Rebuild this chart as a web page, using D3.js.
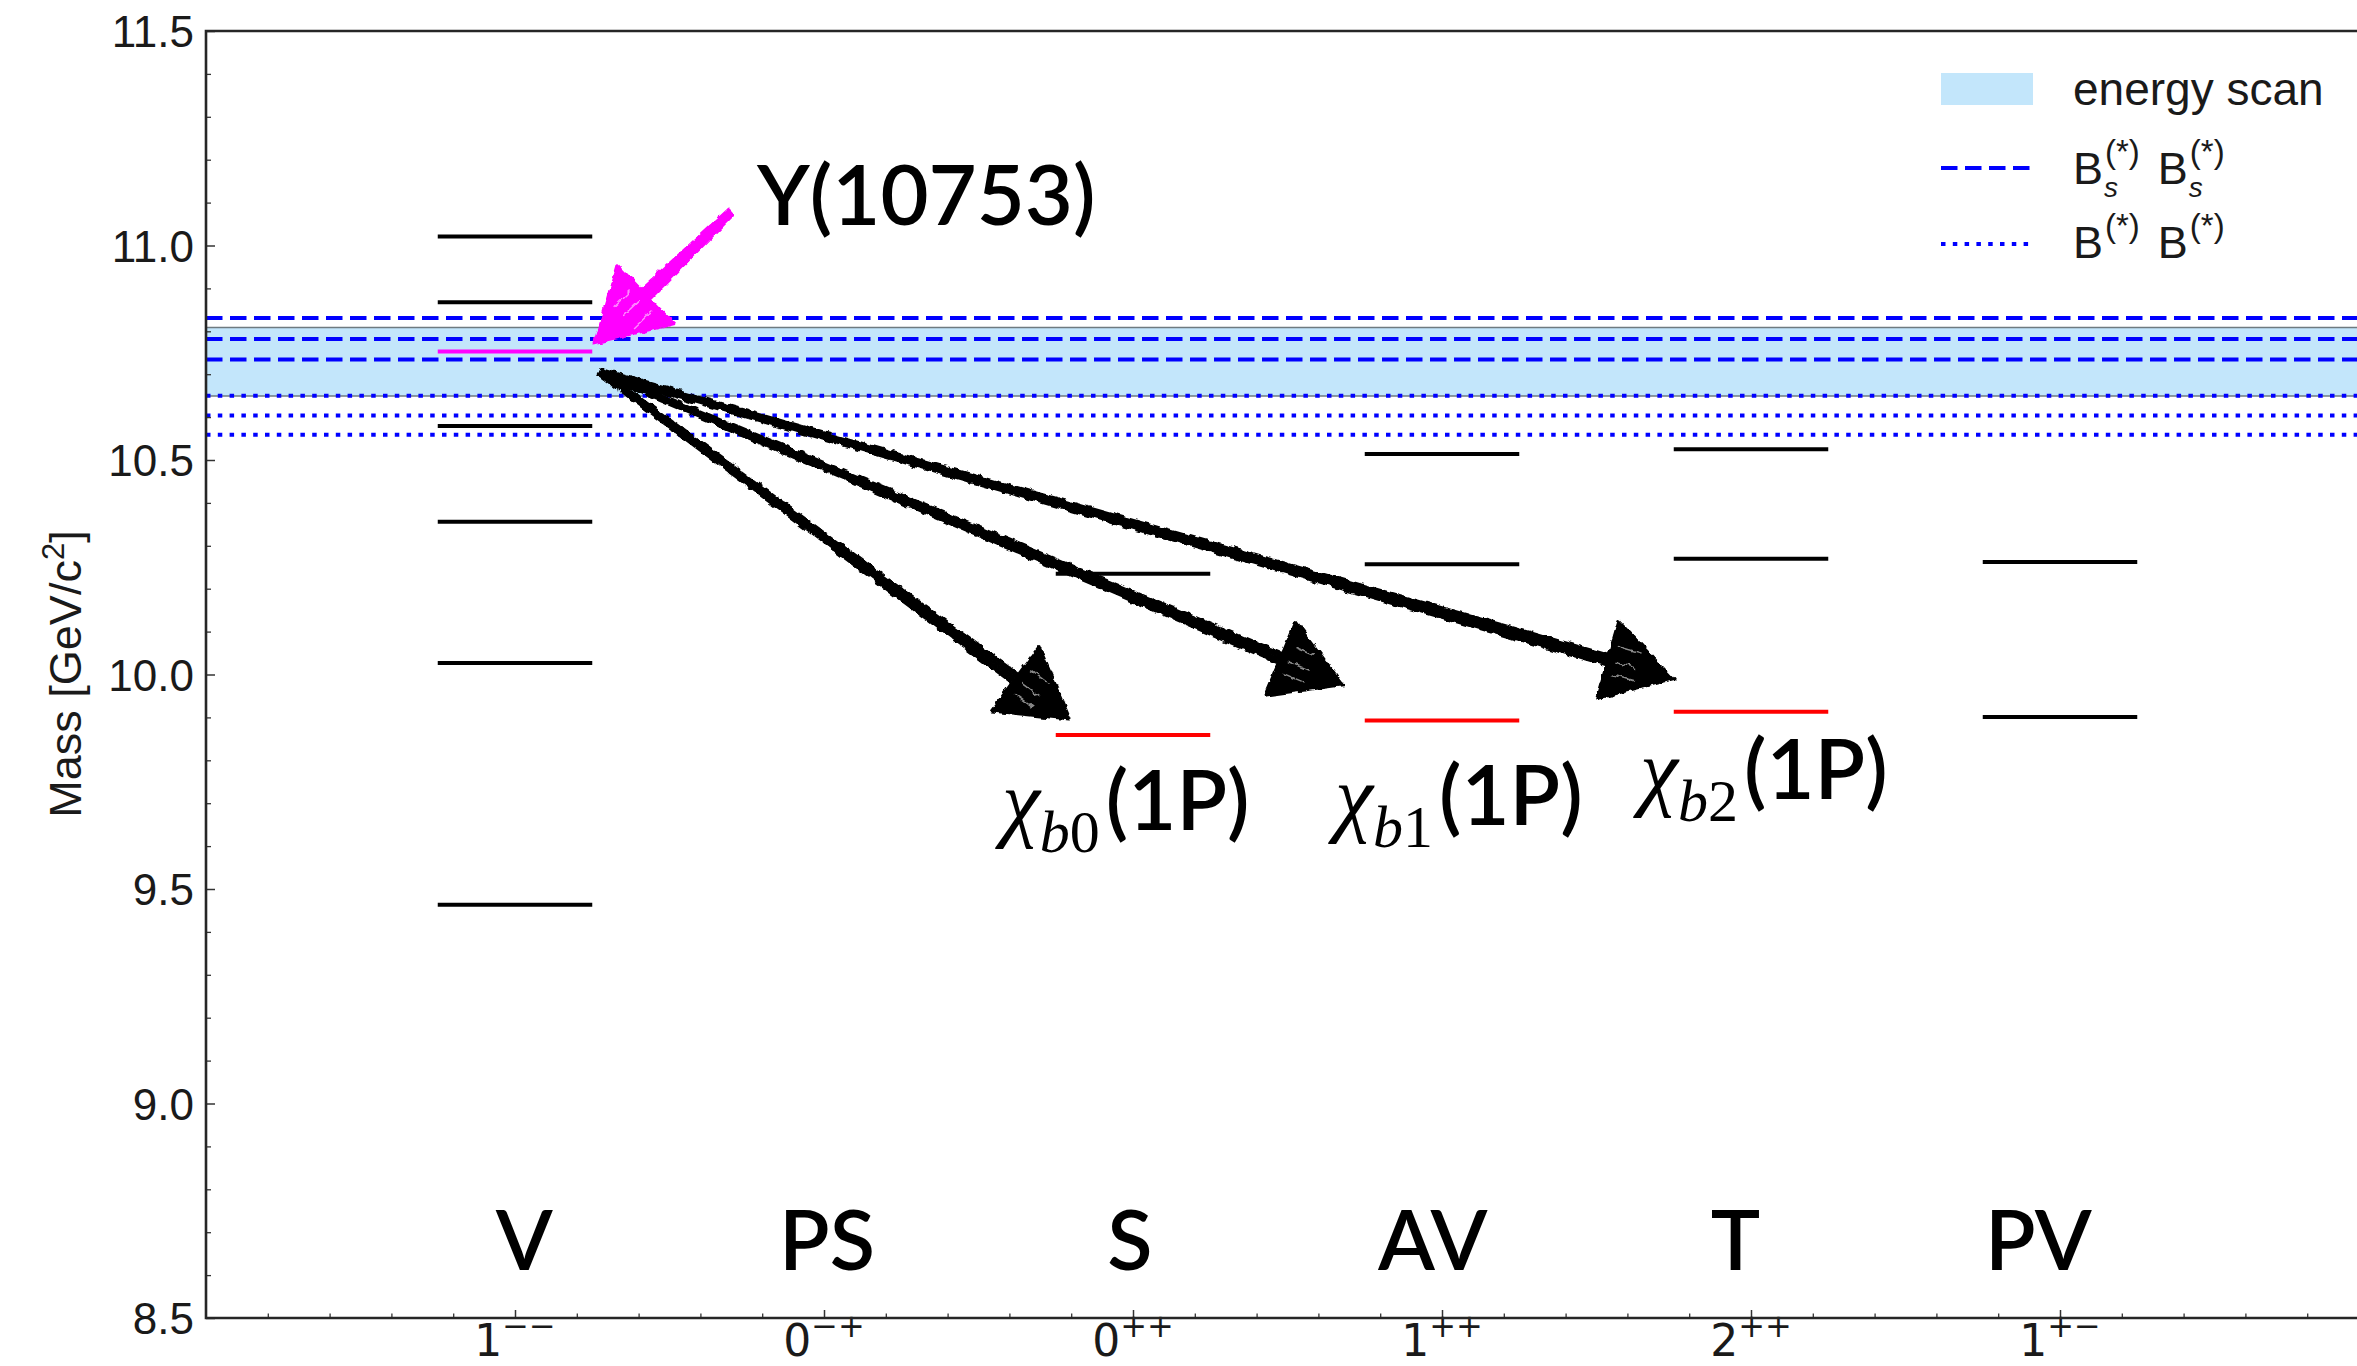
<!DOCTYPE html>
<html><head><meta charset="utf-8">
<script src="https://cdn.jsdelivr.net/npm/d3@7"></script>
<style>html,body{margin:0;padding:0;background:#fff;} svg{display:block}</style>
</head><body>
<svg id="chart" width="2357" height="1366"></svg>
<script>
// ---------------- data ----------------
const categories = ["V", "PS", "S", "AV", "T", "PV"];
const jpcBase = ["1", "0", "0", "1", "2", "1"];
const jpcSup = ["\u2212\u2212", "\u2212+", "++", "++", "++", "+\u2212"];

// bottomonium levels: category index, mass [GeV], kind
const levelCategory = [0, 0, 0, 0, 0, 0, 0, 2, 2, 3, 3, 3, 4, 4, 4, 5, 5];
const levelMass = [9.463, 10.027, 10.356, 10.579, 10.868, 11.021, 10.753,
                   10.235, 9.859,
                   10.514, 10.257, 9.893,
                   10.525, 10.270, 9.913,
                   10.262, 9.901];
const levelKind = ["known", "known", "known", "known", "known", "known", "new",
                   "known", "chib",
                   "known", "known", "chib",
                   "known", "known", "chib",
                   "known", "known"];

const yTicks = [8.5, 9.0, 9.5, 10.0, 10.5, 11.0, 11.5];
const bsThresholds = [10.734, 10.782, 10.831];   // Bs(*) Bs(*)
const bThresholds = [10.559, 10.604, 10.650];    // B(*) B(*)
const scanRange = [10.649, 10.809];              // energy scan band
const chibSubs = ["0", "1", "2"];
const newStateName = "\u03A5(10753)";

// ---------------- layout ----------------
const W = 2357, H = 1366;
const svg = d3.select("#chart");
svg.append("rect").attr("width", W).attr("height", H).attr("fill", "#fff");
const x = d3.scaleLinear().domain([0, 7]).range([206, 2369]);
const y = d3.scaleLinear().domain([8.5, 11.5]).range([1318, 31]);

const defs = svg.append("defs");
defs.append("clipPath").attr("id", "plotclip").append("rect")
  .attr("x", x(0)).attr("y", y(11.5)).attr("width", x(7) - x(0)).attr("height", y(8.5) - y(11.5));
const f = defs.append("filter").attr("id", "rough").attr("filterUnits", "userSpaceOnUse")
  .attr("x", 0).attr("y", 0).attr("width", W).attr("height", H);
f.append("feTurbulence").attr("type", "fractalNoise").attr("baseFrequency", 0.12)
  .attr("numOctaves", 2).attr("seed", 7).attr("result", "noise");
f.append("feDisplacementMap").attr("in", "SourceGraphic").attr("in2", "noise")
  .attr("scale", 6).attr("xChannelSelector", "R").attr("yChannelSelector", "G");

const plot = svg.append("g").attr("clip-path", "url(#plotclip)");

// energy scan band
plot.append("rect").attr("x", x(0)).attr("width", x(7) - x(0))
  .attr("y", y(scanRange[1])).attr("height", y(scanRange[0]) - y(scanRange[1]))
  .attr("fill", "#c3e6fb");
plot.selectAll("line.bandedge").data(scanRange).join("line").attr("class", "bandedge")
  .attr("x1", x(0)).attr("x2", x(7)).attr("y1", d => y(d)).attr("y2", d => y(d))
  .attr("stroke", "#6e7a80").attr("stroke-width", 1.5);

// thresholds
plot.selectAll("line.bs").data(bsThresholds).join("line").attr("class", "bs")
  .attr("x1", x(0)).attr("x2", x(7)).attr("y1", d => y(d)).attr("y2", d => y(d))
  .attr("stroke", "#0000ff").attr("stroke-width", 4).attr("stroke-dasharray", "16.5,7.5");
plot.selectAll("line.bb").data(bThresholds).join("line").attr("class", "bb")
  .attr("x1", x(0)).attr("x2", x(7)).attr("y1", d => y(d)).attr("y2", d => y(d))
  .attr("stroke", "#0000ff").attr("stroke-width", 4).attr("stroke-dasharray", "4.5,7.3");

// levels
const kindColor = {known: "#000000", chib: "#ff0000", new: "#ff00ff"};
const levels = levelMass.map((m, i) => ({m, c: levelCategory[i], k: levelKind[i]}));
plot.selectAll("line.lvl").data(levels).join("line").attr("class", "lvl")
  .attr("x1", d => x(d.c + 1 - 0.25)).attr("x2", d => x(d.c + 1 + 0.25))
  .attr("y1", d => y(d.m)).attr("y2", d => y(d.m))
  .attr("stroke", d => kindColor[d.k]).attr("stroke-width", 4);

// ---------------- axes ----------------
const fontSans = "'Liberation Sans', Arial, Helvetica, sans-serif";
const tickColor = "#333";
const gY = svg.append("g").attr("transform", `translate(${x(0)},0)`)
  .call(d3.axisLeft(y).tickValues(yTicks).tickSize(-9).tickPadding(12).tickFormat(d3.format(".1f")));
gY.select(".domain").remove();
gY.selectAll("line").attr("stroke", tickColor).attr("stroke-width", 1.5);
gY.selectAll("text").attr("font-family", fontSans).attr("font-size", 44).attr("fill", "#1a1a1a").attr("dy", "0.36em");
const yMinor = d3.range(85, 116).map(v => v / 10).filter((v, i) => i % 5 !== 0);
const gYm = svg.append("g").attr("transform", `translate(${x(0)},0)`)
  .call(d3.axisLeft(y).tickValues(yMinor).tickSize(-5).tickFormat(""));
gYm.select(".domain").remove();
gYm.selectAll("line").attr("stroke", tickColor).attr("stroke-width", 1.3);

const gX = svg.append("g").attr("transform", `translate(0,${y(8.5)})`)
  .call(d3.axisBottom(x).tickValues(d3.range(1, 7)).tickSize(-8).tickFormat(""));
gX.select(".domain").remove();
gX.selectAll("line").attr("stroke", tickColor).attr("stroke-width", 1.5);
const xMinor = d3.range(1, 35).filter(i => i % 5 !== 0).map(i => i * 0.2);
const gXm = svg.append("g").attr("transform", `translate(0,${y(8.5)})`)
  .call(d3.axisBottom(x).tickValues(xMinor).tickSize(-4.5).tickFormat(""));
gXm.select(".domain").remove();
gXm.selectAll("line").attr("stroke", tickColor).attr("stroke-width", 1.3);

// x tick labels (J^PC)
jpcBase.forEach((b, i) => {
  const t = svg.append("text").attr("x", x(i + 1)).attr("y", 1356)
    .attr("text-anchor", "middle").attr("font-family", "'DejaVu Sans', sans-serif")
    .attr("font-size", 44).attr("fill", "#1a1a1a");
  t.append("tspan").text(b);
  t.append("tspan").attr("font-size", 32).attr("dy", -19).text(jpcSup[i]);
});

// spines
svg.append("path")
  .attr("d", `M${x(7)},${y(11.5)}H${x(0)}V${y(8.5)}H${x(7)}V${y(11.5)}`)
  .attr("fill", "none").attr("stroke", "#262626").attr("stroke-width", 2.6);

// y label
const yl = svg.append("text").attr("transform", "translate(81,674) rotate(-90)")
  .attr("text-anchor", "middle").attr("font-family", fontSans).attr("font-size", 45).attr("fill", "#1a1a1a");
yl.append("tspan").text("Mass [GeV/c");
yl.append("tspan").attr("font-size", 31).attr("dy", -17).text("2");
yl.append("tspan").attr("dy", 17).text("]");

// ---------------- legend ----------------
const lg = svg.append("g");
lg.append("rect").attr("x", 1941).attr("y", 73).attr("width", 92).attr("height", 32).attr("fill", "#c3e6fb");
lg.append("line").attr("x1", 1941).attr("x2", 2033).attr("y1", 168).attr("y2", 168)
  .attr("stroke", "#0000ff").attr("stroke-width", 4).attr("stroke-dasharray", "16.5,7.5");
lg.append("line").attr("x1", 1941).attr("x2", 2033).attr("y1", 244).attr("y2", 244)
  .attr("stroke", "#0000ff").attr("stroke-width", 4).attr("stroke-dasharray", "4.5,7.3");
lg.append("text").attr("x", 2073).attr("y", 105).attr("font-family", fontSans).attr("font-size", 46)
  .attr("fill", "#1a1a1a").text("energy scan");

// measure helper
function textWidth(str, size, style) {
  const t = svg.append("text").attr("font-family", fontSans).attr("font-size", size)
    .attr("font-style", style || "normal").text(str);
  const w = t.node().getComputedTextLength();
  t.remove();
  return w;
}
function mathB(xs, base, withSub) {
  const bw = textWidth("B", 45), sw = textWidth("(*)", 33);
  const t = lg.append("text").attr("y", base).attr("font-family", fontSans)
    .attr("font-size", 45).attr("fill", "#1a1a1a");
  let cx = xs;
  for (let r = 0; r < 2; r++) {
    t.append("tspan").attr("x", cx).attr("y", base).text("B");
    t.append("tspan").attr("x", cx + bw + 2).attr("y", base - 21).attr("font-size", 33).text("(*)");
    if (withSub) {
      t.append("tspan").attr("x", cx + bw + 1).attr("y", base + 13).attr("font-size", 28)
        .attr("font-style", "italic").text("s");
    }
    cx = cx + bw + 2 + sw + 18;
  }
}
mathB(2073, 184, true);
mathB(2073, 258, false);

// ---------------- arrows ----------------
const arrows = svg.append("g").attr("filter", "url(#rough)");
function sketchArrow(t, h, color, shaftW, headL, headW) {
  const [x0, y0] = t, [x1, y1] = h;
  const dx = x1 - x0, dy = y1 - y0, L = Math.hypot(dx, dy);
  const ux = dx / L, uy = dy / L, px = -uy, py = ux;
  const bx = x1 - ux * headL, by = y1 - uy * headL;
  [-0.5, -0.25, 0, 0.25, 0.5].forEach(o => {
    const s = o * shaftW;
    arrows.append("line").attr("x1", x0 + px * s * 0.5).attr("y1", y0 + py * s * 0.5)
      .attr("x2", bx + px * s).attr("y2", by + py * s)
      .attr("stroke", color).attr("stroke-width", shaftW / 3).attr("stroke-linecap", "round");
  });
  arrows.append("path")
    .attr("d", `M${x1},${y1}L${bx + px * headW / 2},${by + py * headW / 2}L${bx - px * headW / 2},${by - py * headW / 2}Z`)
    .attr("fill", color).attr("stroke", color).attr("stroke-width", 3).attr("stroke-linejoin", "round");
  // hand-drawn streaks
  [0.25, 0.5, 0.7].forEach(fr => {
    const sx = bx + px * headW * (fr - 0.5) * 0.8, sy = by + py * headW * (fr - 0.5) * 0.8;
    arrows.append("line").attr("x1", sx + ux * 8).attr("y1", sy + uy * 8)
      .attr("x2", sx + ux * headL * 0.45).attr("y2", sy + uy * headL * 0.45)
      .attr("stroke", "#fff").attr("stroke-opacity", 0.55).attr("stroke-width", 1.5);
  });
}
// Y(10753) -> chi_bJ(1P) transitions (data coordinates)
const tail = [x(1.275), y(10.705)];
sketchArrow(tail, [x(2.796), y(9.896)], "#000", 10, 68, 80);
sketchArrow(tail, [x(3.680), y(9.976)], "#000", 10, 68, 80);
sketchArrow(tail, [x(4.748), y(9.990)], "#000", 10, 68, 80);
sketchArrow([x(1.696), y(11.076)], [x(1.259), y(10.773)], "#ff00ff", 12, 70, 82);

// ---------------- big labels ----------------
const fontBig = "Lato, 'Noto Sans', sans-serif";
categories.forEach((c, i) => {
  svg.append("text").attr("x", x(1.03 + i * 0.98)).attr("y", y(8.612))
    .attr("text-anchor", "middle").attr("font-family", fontBig).attr("font-weight", 600)
    .attr("font-size", 83).attr("fill", "#000").text(c);
});
svg.append("text").attr("x", x(1.783)).attr("y", y(11.048))
  .attr("font-family", fontBig).attr("font-weight", 600).attr("font-size", 83).attr("fill", "#000")
  .text(newStateName);

const chibPos = [[2.576, 9.6375], [3.654, 9.649], [4.641, 9.710]];
chibSubs.forEach((s, i) => {
  const t = svg.append("text").attr("x", x(chibPos[i][0])).attr("y", y(chibPos[i][1])).attr("fill", "#000");
  t.append("tspan").attr("font-family", "'Liberation Serif', 'DejaVu Serif', serif").attr("font-style", "italic")
    .attr("font-size", 86).text("\u03C7");
  t.append("tspan").attr("font-family", "'Liberation Serif', 'DejaVu Serif', serif").attr("font-style", "italic")
    .attr("font-size", 60).attr("dy", 22).text("b");
  t.append("tspan").attr("font-family", "'Liberation Serif', 'DejaVu Serif', serif")
    .attr("font-size", 60).text(s);
  t.append("tspan").attr("font-family", fontBig).attr("font-weight", 600).attr("font-size", 83)
    .attr("dy", -22).attr("dx", 6).text("(1P)");
});
</script>
</body></html>
